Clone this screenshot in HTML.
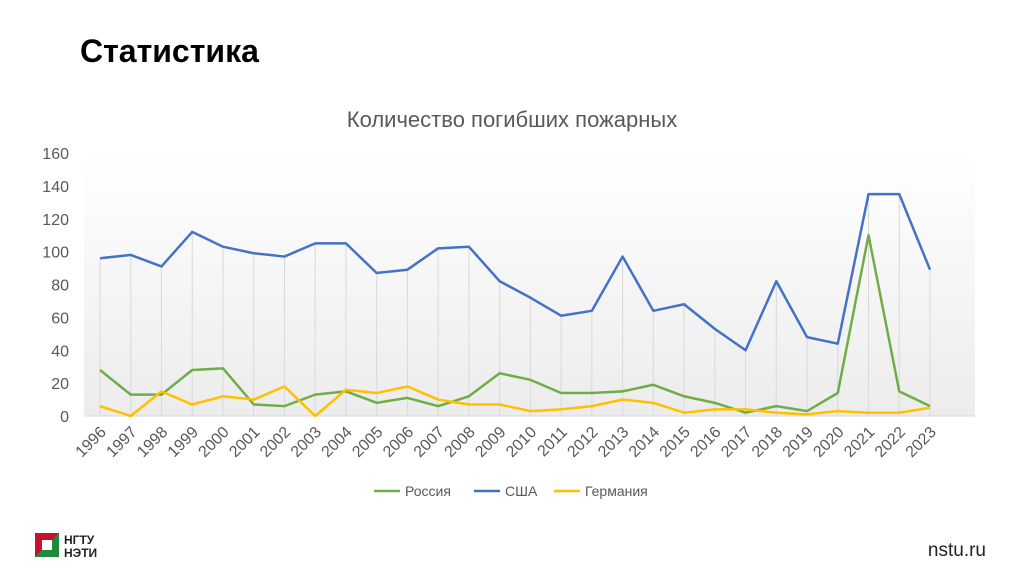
<!DOCTYPE html>
<html><head><meta charset="utf-8"><style>
body{margin:0;width:1024px;height:574px;background:#fff;font-family:"Liberation Sans","DejaVu Sans",sans-serif;overflow:hidden;position:relative}
#title{position:absolute;left:80px;top:33px;font-size:32px;font-weight:bold;color:#000}
#site{position:absolute;right:38px;top:540px;font-size:19px;color:#222}
#logo{position:absolute;left:35px;top:533px}
</style></head><body>
<div id="title">Статистика</div>
<svg id="chart" width="1024" height="520" style="position:absolute;left:0;top:0">
<defs><linearGradient id="bg" x1="0" y1="0" x2="0" y2="1"><stop offset="0" stop-color="#fff"/><stop offset="1" stop-color="#ececec"/></linearGradient></defs>
<text x="512" y="127" text-anchor="middle" font-size="22" fill="#595959" font-family="Liberation Sans, sans-serif">Количество погибших пожарных</text>
</svg>
<div id="logo">
<svg width="90" height="28"><polygon points="0,0 24,0 24,24 0,24" fill="#c8102e"/><polygon points="24,0 24,24 0,24" fill="#1f8a3c"/><rect x="7" y="7" width="10" height="10" fill="#fff"/>
<text x="29" y="11" font-size="12" font-weight="bold" fill="#222" font-family="Liberation Sans, sans-serif">НГТУ</text>
<text x="29" y="24" font-size="12" font-weight="bold" fill="#222" font-family="Liberation Sans, sans-serif">НЭТИ</text></svg></div>
<div id="site">nstu.ru</div>
<script>
const years=[1996,1997,1998,1999,2000,2001,2002,2003,2004,2005,2006,2007,2008,2009,2010,2011,2012,2013,2014,2015,2016,2017,2018,2019,2020,2021,2022,2023];
const usa=[96,98,91,112,103,99,97,105,105,87,89,102,103,82,72,61,64,97,64,68,53,40,82,48,44,135,135,89];
const russia=[28,13,13,28,29,7,6,13,15,8,11,6,12,26,22,14,14,15,19,12,8,2,6,3,14,110,15,6];
const germany=[6,0,15,7,12,10,18,0,16,14,18,10,7,7,3,4,6,10,8,2,4,4,2,1,3,2,2,5];
const yTicks=[0,20,40,60,80,100,120,140,160];
const NS='http://www.w3.org/2000/svg';
const svg=document.getElementById('chart');
const L=84,R=975,T=153,B=416,x0=100,x1=930;
const X=i=>x0+(x1-x0)*i/(years.length-1);
const Y=v=>B-(B-T)*v/160;
function el(t,a){const e=document.createElementNS(NS,t);for(const k in a)e.setAttribute(k,a[k]);svg.appendChild(e);return e;}
const bg=el('rect',{x:L,y:T,width:R-L,height:B-T,fill:'url(#bg)'});


years.forEach((y,i)=>{
 const g=el('line',{x1:X(i),x2:X(i),y1:Y(Math.max(usa[i],russia[i],germany[i])),y2:B,stroke:'#d9d9d9','stroke-width':1});
 
 
 const t=el('text',{x:0,y:0,'font-size':16,fill:'#595959','text-anchor':'end',transform:`translate(${X(i)+7},${B+17}) rotate(-45)`});
 t.textContent=y;
 
 
});
const ax=el('line',{x1:L,x2:R,y1:B,y2:B,stroke:'#d9d9d9','stroke-width':1});


yTicks.forEach(v=>{
 const t=el('text',{x:69,y:Y(v)+6,'font-size':16,fill:'#595959','text-anchor':'end'});
 t.textContent=v;
 
 
});
function series(d,c,n){
 const p=el('polyline',{points:d.map((v,i)=>X(i)+','+Y(v)).join(' '),fill:'none',stroke:c,'stroke-width':2.5,'stroke-linejoin':'round'});
 
 
}
series(russia,'#70ad47','russia-line');
series(usa,'#4472c4','usa-line');
series(germany,'#ffc000','germany-line');
const leg=[['Россия','#70ad47',374],['США','#4472c4',474],['Германия','#ffc000',554]];
leg.forEach(([n,c,x])=>{
 const l=el('line',{x1:x,x2:x+26,y1:491,y2:491,stroke:c,'stroke-width':2.5});
 
 
 const t=el('text',{x:x+31,y:496,'font-size':14,fill:'#595959'});
 t.textContent=n;
 
 
});
</script>
</body></html>
